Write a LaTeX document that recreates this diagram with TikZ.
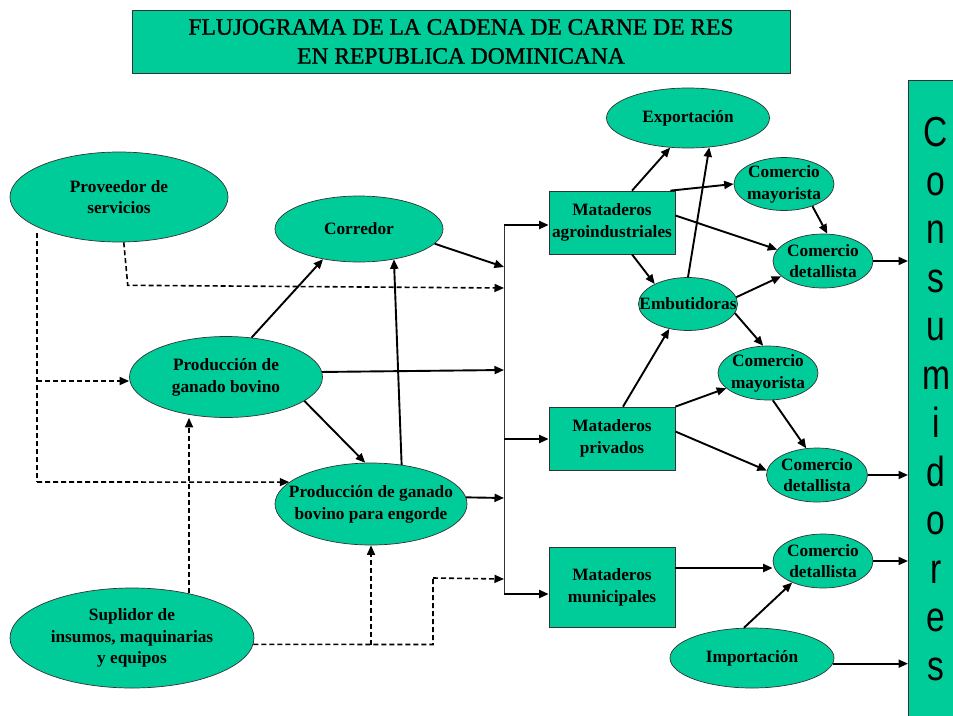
\documentclass[tikz,border=0pt]{standalone}
\usepackage{fontspec}
\setmainfont{Liberation Serif}
\newfontfamily\consfont{Liberation Sans}
\newfontfamily\titlefont{Liberation Serif}[FakeBold=1.2]
\usetikzlibrary{shapes.geometric,arrows.meta,calc}
\definecolor{vg}{HTML}{00CC99}
\begin{document}
\begin{tikzpicture}[x=1pt,y=-1pt,
 ell/.style={ellipse,draw=black!80,line width=0.7pt,fill=vg,inner sep=0pt},
 box/.style={rectangle,draw=black!80,line width=0.7pt,fill=vg,inner sep=0pt},
 lbl/.style={align=center,inner sep=0pt,font=\fontsize{17.3}{21.8}\selectfont\bfseries},
 arr/.style={line width=1.9pt,-{Triangle[length=9.5pt,width=8pt]}},
 darr/.style={line width=1.6pt,dash pattern=on 5pt off 3pt,-{Triangle[length=9.5pt,width=8pt]}},
 dln/.style={line width=1.6pt,dash pattern=on 5pt off 3pt},
]
\useasboundingbox (0,0) rectangle (953,715);
\fill[white] (0,0) rectangle (953,715);

% title
\node[box,minimum width=658pt,minimum height=63pt] (title) at (461,41.5) {};
\node[font=\titlefont\fontsize{23.5}{29}\selectfont,align=center,inner sep=0pt] (titleT) at (title) {FLUJOGRAMA DE LA CADENA DE CARNE DE RES\\EN REPUBLICA DOMINICANA};

% consumidores
\node[box,anchor=north west,minimum width=60pt,minimum height=650pt] (cons) at (908,80) {};
\node[font=\consfont\fontsize{42}{48.5}\selectfont,align=center,inner sep=0pt,xscale=0.8,transform shape] (consT) at (936,399) {C\\o\\n\\s\\u\\m\\i\\d\\o\\r\\e\\s};

% ellipses
\node[ell,minimum width=218pt,minimum height=90pt] (pv) at (119,197) {};
\node[lbl] (pvT) at (pv) {Proveedor de\\servicios};
\node[ell,minimum width=168pt,minimum height=66pt] (co) at (359,229) {};
\node[lbl] (coT) at (co) {Corredor};
\node[ell,minimum width=193pt,minimum height=81pt] (pb) at (226,377) {};
\node[lbl] (pbT) at (pb) {Producción de\\ganado bovino};
\node[ell,minimum width=192pt,minimum height=82pt] (en) at (371,504) {};
\node[lbl] (enT) at (en) {Producción de ganado\\bovino para engorde};
\node[ell,minimum width=244pt,minimum height=100pt] (su) at (132,638) {};
\node[lbl] (suT) at (su) {Suplidor de\\insumos, maquinarias\\y equipos};
\node[ell,minimum width=163pt,minimum height=60pt] (ex) at (688,118) {};
\node[lbl] (exT) at (ex) {Exportación};
\node[ell,minimum width=100pt,minimum height=53pt] (cm1) at (784,184) {};
\node[lbl] (cm1T) at (cm1) {Comercio\\mayorista};
\node[ell,minimum width=100pt,minimum height=54pt] (cd1) at (823,261) {};
\node[lbl] (cd1T) at (cd1) {Comercio\\detallista};
\node[ell,minimum width=99pt,minimum height=53pt] (eb) at (688,304) {};
\node[lbl] (ebT) at (eb) {Embutidoras};
\node[ell,minimum width=100pt,minimum height=54pt] (cm2) at (768,373) {};
\node[lbl] (cm2T) at (cm2) {Comercio\\mayorista};
\node[ell,minimum width=101pt,minimum height=54pt] (cd2) at (817,475) {};
\node[lbl] (cd2T) at (cd2) {Comercio\\detallista};
\node[ell,minimum width=100pt,minimum height=54pt] (cd3) at (823,561) {};
\node[lbl] (cd3T) at (cd3) {Comercio\\detallista};
\node[ell,minimum width=164pt,minimum height=60pt] (im) at (752,658) {};
\node[lbl] (imT) at (im) {Importación};

% rectangles
\node[box,minimum width=126pt,minimum height=63pt] (ma) at (612,222.5) {};
\node[lbl] (maT) at (ma) {Mataderos\\agroindustriales};
\node[box,minimum width=126pt,minimum height=63pt] (mp) at (612,438.5) {};
\node[lbl] (mpT) at (mp) {Mataderos\\privados};
\node[box,minimum width=126pt,minimum height=80pt] (mm) at (612,587) {};
\node[lbl] (mmT) at (mm) {Mataderos\\municipales};

% bus
\coordinate (b1) at (504,225);
\coordinate (bC) at (504,267);
\coordinate (bD) at (504,288);
\coordinate (bB) at (504,370);
\coordinate (bP) at (504,439);
\coordinate (bE) at (504,498);
\coordinate (bF) at (504,579);
\coordinate (b6) at (504,594);
\draw[line width=1pt,black!80] (b1) -- (b6);
\draw[arr] (b1) -- (b1 -| ma.west);
\draw[arr] (bP) -- (bP -| mp.west);
\draw[arr] (b6) -- (b6 -| mm.west);

% left solid arrows
\draw[arr] (pb.57) -- (co.220);
\draw[arr] (pb.-17) -- (en.98);
\draw[arr] (en.52) -- (co.-41);
\draw[arr] (co.-11) -- (bC);
\draw[arr] (pb.3) -- (bB);
\draw[arr] (en.4) -- (bE);

% dashed
\draw[darr] (pv.-84) -- ++(4,43) -- (bD);
\coordinate (dTop) at (37,233);
\coordinate (dMid) at (37,381);
\coordinate (dBot) at (37,482);
\draw[dln] (dTop) -- (dBot);
\draw[darr] (dMid) -- (dMid -| pb.west);
\draw[darr] (dBot) -- (en.165);
\draw[darr] (su.38) -- (su.38 |- pb.south);
\coordinate (sA) at (433,644.5);
\coordinate (sB) at (433,578);
\draw[dln] (su.-3) -- (sA) -- (sB);
\draw[darr] (sB) -- (bF);
\draw[darr] (en.south |- sA) -- (en.south);

% right side
\draw[arr] ([xshift=20pt]ma.north) -- (ex.239);
\draw[arr] (eb.north) -- (ex.-54);
\draw[arr] ([xshift=-5pt]ma.north east) -- (cm1.west);
\draw[arr] ([yshift=7pt]ma.east) -- (cd1.166);
\draw[arr] ([xshift=20pt]ma.south) -- (eb.149);
\draw[arr] (cm1.-38) -- (cd1.81);
\draw[arr] (eb.8) -- (cd1.200);
\draw[arr] (eb.-11) -- (cm2.100);
\draw[arr] ([xshift=11pt]mp.north) -- (eb.233);
\draw[arr] (mp.north east) -- (cm2.200);
\draw[arr] ([yshift=7pt]mp.east) -- (cd2.175);
\draw[arr] (cm2.-80) -- (cd2.112);
\draw[arr] ([yshift=19pt]mm.east) -- ([yshift=19pt]mm.east -| cd3.west);
\draw[arr] (im.105) -- (cd3.215);
\draw[arr] (cd1.east) -- (cd1.east -| cons.west);
\draw[arr] (cd2.east) -- (cd2.east -| cons.west);
\draw[arr] (cd3.east) -- (cd3.east -| cons.west);
\draw[arr] (im.-4) -- (im.-4 -| cons.west);
\end{tikzpicture}
\end{document}
